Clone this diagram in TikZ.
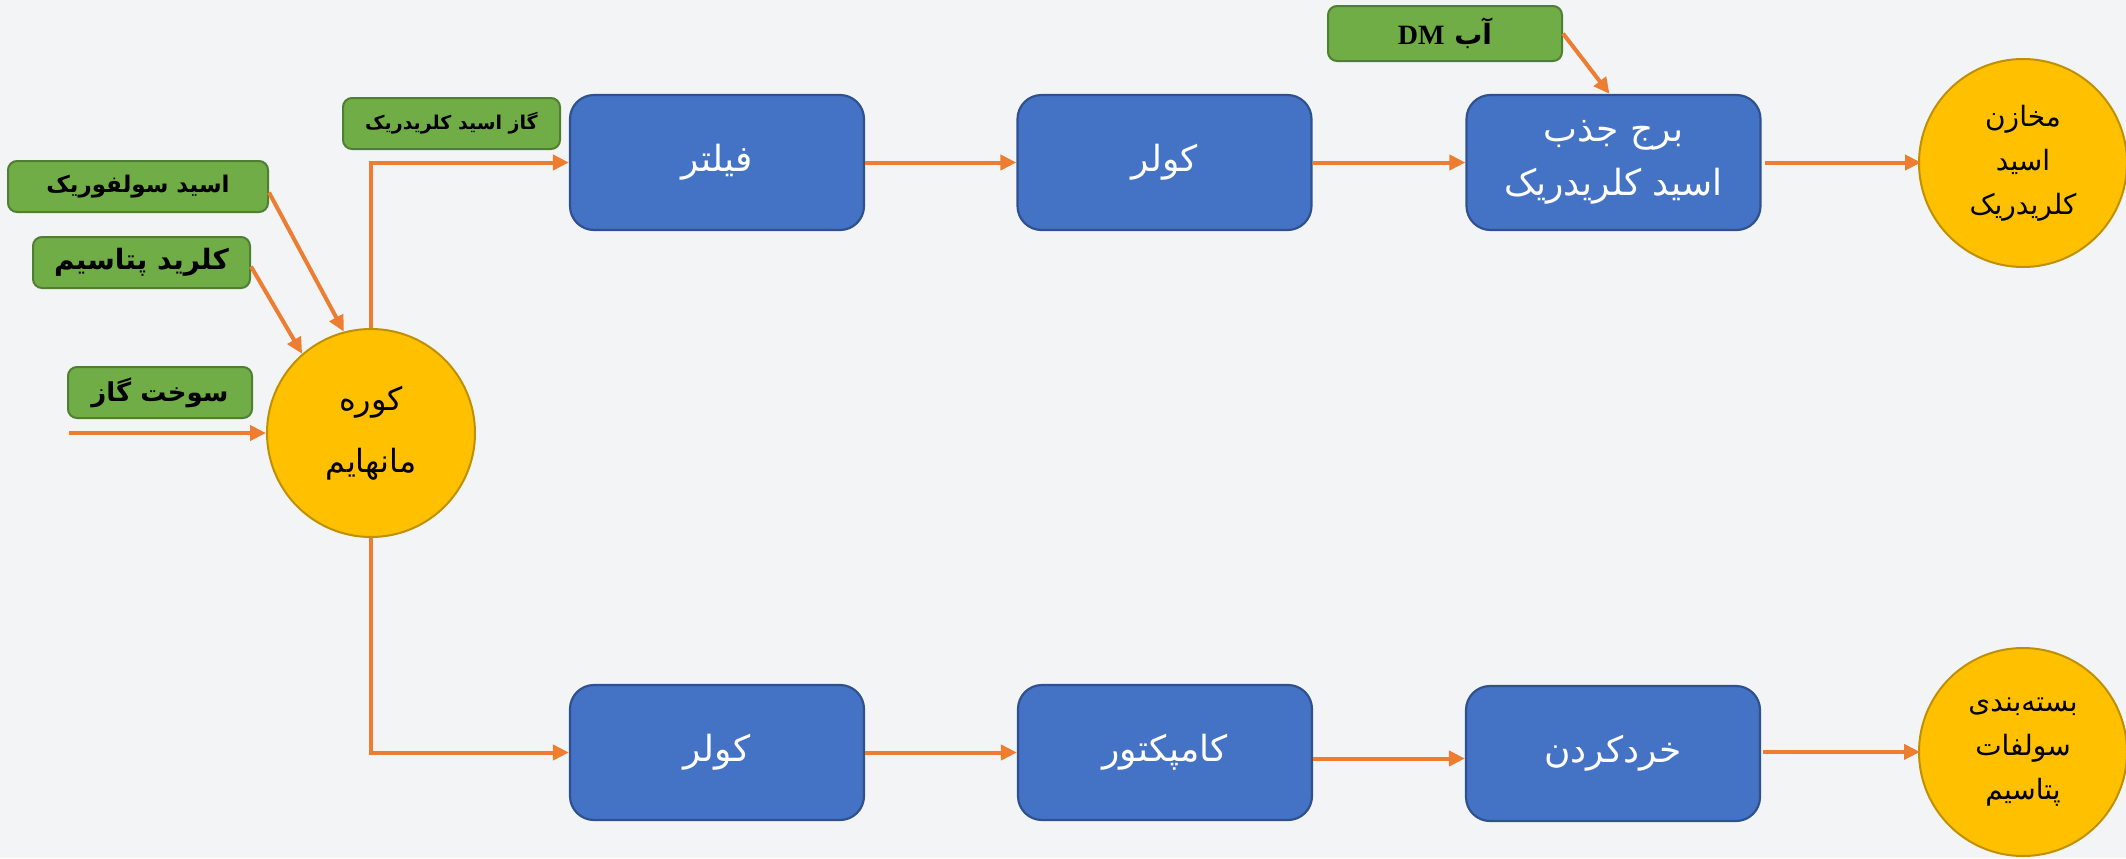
\documentclass[tikz,border=0pt]{standalone}
\usepackage{fontspec}
\usetikzlibrary{arrows.meta,calc}
\TeXXeTstate=1
\newfontfamily\fa[Script=Arabic]{DejaVu Sans}
\newfontfamily\latinserif{Liberation Serif}
\newcommand\faR[1]{\beginR#1\endR}
\definecolor{pagebg}{HTML}{F3F4F6}
\definecolor{feedfill}{HTML}{70AD47}
\definecolor{feedline}{HTML}{507E32}
\definecolor{unitfill}{HTML}{4472C4}
\definecolor{unitline}{HTML}{2F528F}
\definecolor{endfill}{HTML}{FFC000}
\definecolor{endline}{HTML}{BF9000}
\definecolor{flowcol}{HTML}{ED7D31}
\tikzset{
  feedbox/.style={draw=feedline, fill=feedfill, line width=1pt, rounded corners=4.5pt,
    inner sep=0pt, minimum height=25.5pt, font=\fa\bfseries, text=black},
  unitbox/.style={draw=unitline, fill=unitfill, line width=1.1pt, rounded corners=12pt,
    inner sep=0pt, minimum width=147pt, minimum height=67.5pt, font=\fa\fontsize{18}{27}\selectfont,
    text=white, align=center},
  endnode/.style={circle, draw=endline, fill=endfill, line width=1pt, inner sep=0pt,
    minimum size=104pt, font=\fa\fontsize{14}{22}\selectfont, text=black, align=center},
  flow/.style={draw=flowcol, line width=2pt, -{Triangle[length=8pt,width=7.5pt]}}
}
\begin{document}
\begin{tikzpicture}[x=0.5pt,y=-0.5pt]
  % page
  \fill[pagebg] (0,0) rectangle (2126,858);
  \useasboundingbox (0,0) rectangle (2126,858);
  \clip (0,0) rectangle (2126,858);

  % raw material boxes
  \node[feedbox, minimum width=130pt, font=\fa\bfseries\fontsize{11.5}{14}\selectfont] (sulf) at (138,186.5) {\faR{اسید سولفوریک}};
  \node[feedbox, minimum width=108.5pt, font=\fa\bfseries\fontsize{14}{16}\selectfont] (kcl) at (141.5,262.5) {\faR{کلرید پتاسیم}};
  \node[feedbox, minimum width=92pt, font=\fa\bfseries\fontsize{13}{15}\selectfont] (fuel) at (160,392.5) {\faR{سوخت گاز}};
  \node[feedbox, minimum width=108.5pt, font=\fa\bfseries\fontsize{9.5}{12}\selectfont] (hclgas) at (451.5,123.5) {\faR{گاز اسید کلریدریک}};
  \node[feedbox, minimum width=117pt, minimum height=27.5pt, font=\fa\bfseries\fontsize{14}{16}\selectfont] (dm) at (1445,33.5)
    {\beginR آب \beginL{\latinserif\bfseries DM}\endL\endR};

  % furnace
  \node[endnode, font=\fa\fontsize{16}{31}\selectfont] (furn) at (371,433) {\faR{کوره}\\\faR{مانهایم}};

  % hydrochloric acid line
  \node[unitbox] (filter) at (717,162.5) {\faR{فیلتر}};
  \node[unitbox] (cool1) at (1164.5,162.5) {\faR{کولر}};
  \node[unitbox] (absorb) at (1613.5,162.5) {\faR{برج جذب}\\\faR{اسید کلریدریک}};
  \node[endnode] (tank) at (2023,163) {\faR{مخازن}\\\faR{اسید}\\\faR{کلریدریک}};

  % potassium sulfate line
  \node[unitbox] (cool2) at (717,752.5) {\faR{کولر}};
  \node[unitbox] (comp) at (1165,752.5) {\faR{کامپکتور}};
  \node[unitbox] (crush) at (1613,753.5) {\faR{خردکردن}};
  \node[endnode] (pack) at (2023,752) {\faR{بسته‌بندی}\\\faR{سولفات}\\\faR{پتاسیم}};

  % feeds into the furnace
  \coordinate (fuelin) at (69,433);
  \draw[flow] (fuelin) -- (furn.west);
  \draw[flow] ([yshift=-3pt]sulf.east) -- (furn.105.5);
  \draw[flow] ([yshift=-2pt]kcl.east) -- (furn.131);

  % furnace outlets
  \draw[flow] (furn.north) |- (filter.west);
  \draw[flow] (furn.south) |- (cool2.west);

  % upper line
  \draw[flow] (filter.east) -- (cool1.west);
  \draw[flow] (cool1.east) -- (absorb.west);
  \draw[flow] ([xshift=1.5pt]absorb.east) -- ([xshift=1.5pt]absorb.east -| tank.west);
  \draw[flow] (dm.east) -- ([xshift=-2pt]absorb.north);

  % lower line
  \draw[flow] (cool2.east) -- (comp.west);
  \draw[flow] ([yshift=-3pt]comp.east) -- ([yshift=-3pt]comp.east -| crush.west);
  \draw[flow] ([xshift=1pt,yshift=0.8pt]crush.east) -- ([xshift=1pt,yshift=0.8pt]crush.east -| pack.west);
\end{tikzpicture}
\end{document}
